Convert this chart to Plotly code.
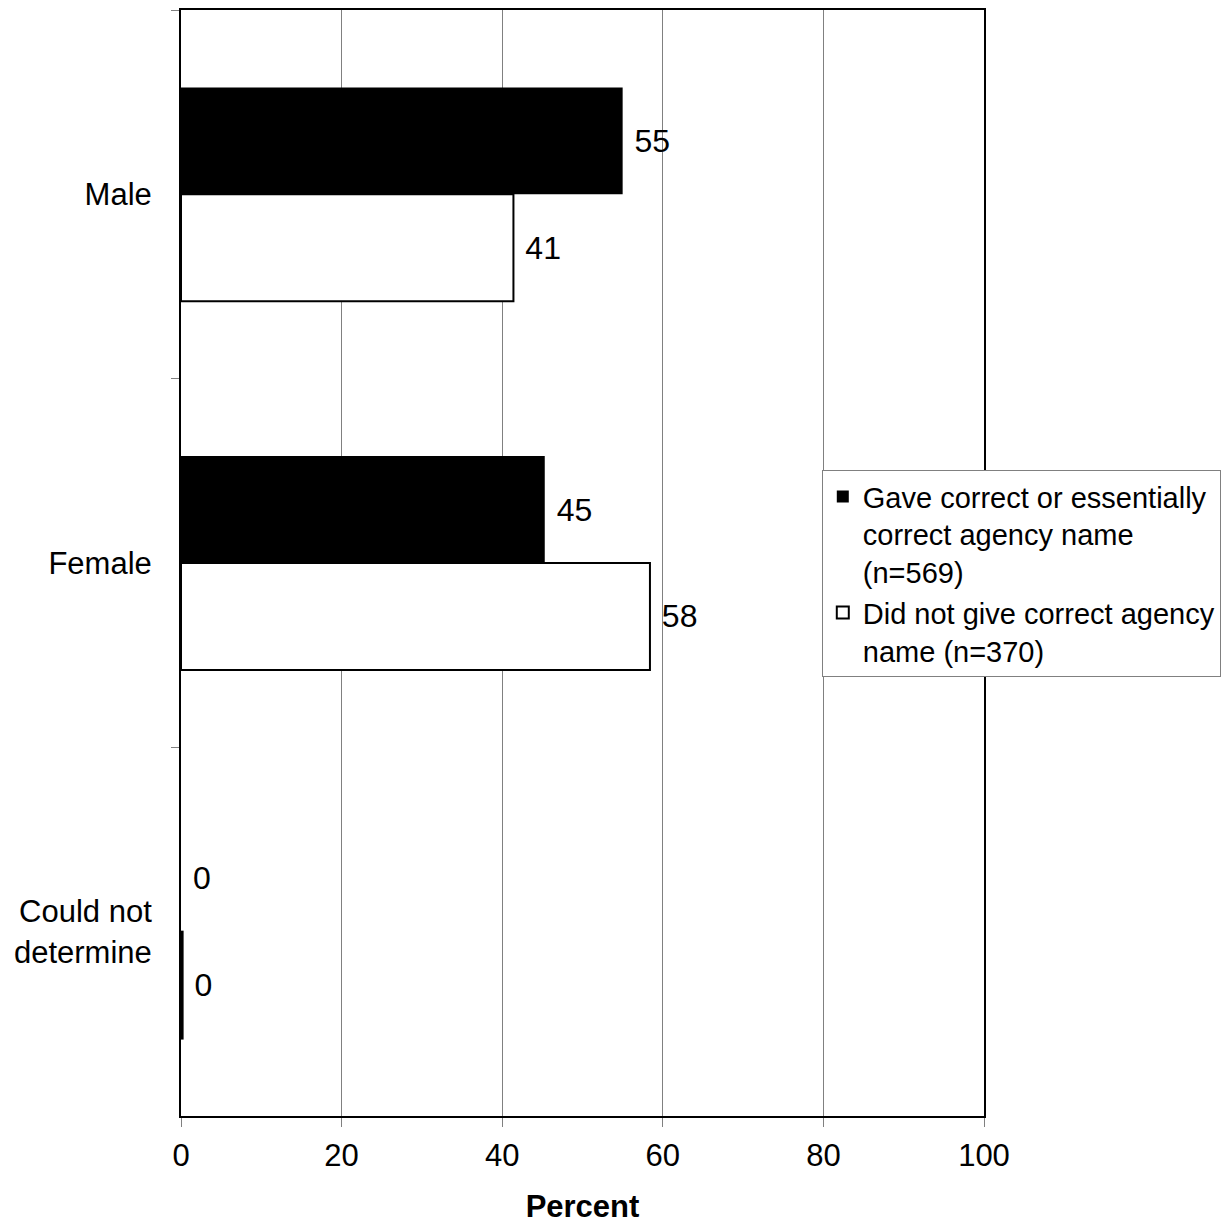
import plotly.graph_objects as go

categories = ["Male", "Female", "Could not<br>determine"]
correct = [55.0, 45.3, 0.0]
not_correct = [41.4, 58.4, 0.2]
series_names = [
    "Gave correct or essentially<br>correct agency name<br>(n=569)",
    "Did not give correct agency<br>name (n=370)",
]
x_ticks = [0, 20, 40, 60, 80, 100]

FONT = "Liberation Sans, Arial, Helvetica, sans-serif"
FS_TICK = 31
FS_LABEL = 32
FS_LEG = 29

fig = go.Figure()
fig.add_trace(go.Bar(
    y=categories, x=correct, orientation="h", name=series_names[0],
    marker=dict(color="black", line=dict(color="black", width=0)),
    texttemplate="\u00a0%{x:.0f}", textposition="outside", cliponaxis=False,
    textfont=dict(size=FS_LABEL, color="black", family=FONT),
))
fig.add_trace(go.Bar(
    y=categories, x=not_correct, orientation="h", name=series_names[1],
    marker=dict(color="white", line=dict(color="black", width=2)),
    texttemplate="\u00a0%{x:.0f}", textposition="outside", cliponaxis=False,
    textfont=dict(size=FS_LABEL, color="black", family=FONT),
))

fig.update_layout(
    width=1222, height=1216,
    margin=dict(l=173, r=246, t=2, b=108, autoexpand=False),
    paper_bgcolor="white", plot_bgcolor="white",
    font=dict(family=FONT, size=FS_TICK, color="black"),
    barmode="group", bargap=0.42, bargroupgap=0,
    showlegend=True,
    legend=dict(
        x=0.798, y=0.584, xanchor="left", yanchor="top",
        bgcolor="white", bordercolor="#808080", borderwidth=1,
        font=dict(size=FS_LEG, family=FONT), valign="top",
        traceorder="normal", entrywidth=440, entrywidthmode="pixels",
    ),
    xaxis=dict(
        range=[0, 100], tickvals=x_ticks, showgrid=True, gridcolor="#808080", gridwidth=1,
        zeroline=False, showline=True, linecolor="black", linewidth=2, mirror=True,
        ticks="outside", ticklen=9, tickcolor="#808080", tickwidth=1,
        ticklabelstandoff=2,
        title=dict(text="<b>Percent</b>", font=dict(size=FS_TICK), standoff=27),
        tickfont=dict(size=FS_TICK),
    ),
    yaxis=dict(
        type="category", autorange="reversed", showgrid=False, zeroline=False,
        showline=True, linecolor="black", linewidth=2, mirror=True,
        ticks="outside", tickson="boundaries", ticklen=8, tickcolor="#808080", tickwidth=1,
        ticklabelstandoff=21, tickfont=dict(size=FS_TICK),
    ),
)

fig.write_html("out.html")
